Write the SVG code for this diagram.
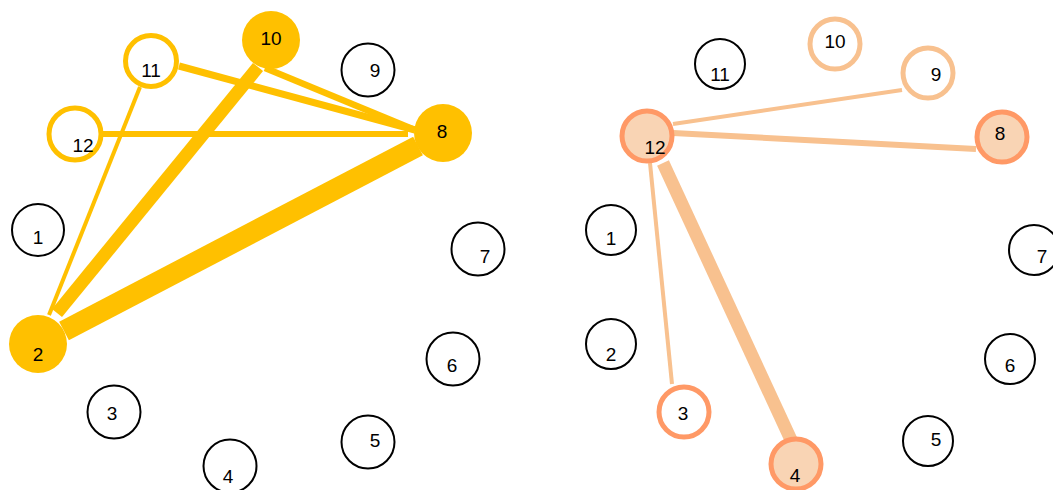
<svg xmlns="http://www.w3.org/2000/svg" width="1053" height="490" viewBox="0 0 1053 490">
<style>
.t{font-family:"Liberation Sans",Arial,sans-serif;font-size:19px;fill:#000;text-anchor:middle}
.n{fill:#fff;stroke:#000;stroke-width:2}
.yf{fill:#FFC000;stroke:none}
.yo{fill:#fff;stroke:#FFC000;stroke-width:5}
.lo{fill:#fff;stroke:#F8C18F;stroke-width:5}
.po{fill:#F9D4B4;stroke:#FF9966;stroke-width:5}
.ro{fill:#fff;stroke:#FF9966;stroke-width:5}
.ye{stroke:#FFC000;fill:none}
.oe{stroke:#F8C18F;fill:none}
</style>
<rect width="1053" height="490" fill="#fff"/>
<g id="edges-left">
<line class="ye" x1="103" y1="134" x2="408" y2="134" stroke-width="6"/>
<line class="ye" x1="179" y1="66" x2="415" y2="130" stroke-width="7"/>
<line class="ye" x1="265" y1="68" x2="415" y2="130" stroke-width="6.5"/>
<line class="ye" x1="140" y1="87" x2="49" y2="315" stroke-width="4"/>
<line class="ye" x1="258" y1="67" x2="57" y2="313" stroke-width="13"/>
<line class="ye" x1="418" y1="146" x2="64" y2="331" stroke-width="21"/>
</g>
<g id="L10"><circle class="yf" cx="271" cy="40" r="29"/><text class="t" x="271" y="45">10</text></g>
<g id="L11"><circle class="yo" cx="151" cy="61" r="25.5"/><text class="t" x="151" y="77">11</text></g>
<g id="L12"><circle class="yo" cx="75" cy="134" r="26"/><text class="t" x="83" y="152">12</text></g>
<g id="L9"><circle class="n" cx="368" cy="70" r="26.5"/><text class="t" x="375" y="77">9</text></g>
<g id="L8"><circle class="yf" cx="443" cy="133" r="29"/><text class="t" x="442" y="138">8</text></g>
<g id="L1"><circle class="n" cx="38" cy="230" r="26"/><text class="t" x="38" y="244">1</text></g>
<g id="L7"><circle class="n" cx="478" cy="249" r="26.5"/><text class="t" x="485" y="263">7</text></g>
<g id="L2"><circle class="yf" cx="38" cy="344" r="29"/><text class="t" x="38" y="361">2</text></g>
<g id="L3"><circle class="n" cx="114" cy="412" r="26.5"/><text class="t" x="112" y="420">3</text></g>
<g id="L4"><circle class="n" cx="230" cy="466" r="26.5"/><text class="t" x="228" y="483">4</text></g>
<g id="L5"><circle class="n" cx="368" cy="442" r="26.5"/><text class="t" x="375" y="447">5</text></g>
<g id="L6"><circle class="n" cx="453" cy="359" r="26.5"/><text class="t" x="452" y="372">6</text></g>

<g id="edges-right">
<line class="oe" x1="673" y1="124" x2="902" y2="90" stroke-width="4"/>
<line class="oe" x1="673" y1="133" x2="976" y2="149" stroke-width="6"/>
<line class="oe" x1="650" y1="163" x2="672" y2="384" stroke-width="4"/>
<line class="oe" x1="663" y1="163" x2="792" y2="442" stroke-width="13"/>
</g>
<g id="R11"><circle class="n" cx="720" cy="64" r="25"/><text class="t" x="720" y="81">11</text></g>
<g id="R10"><circle class="lo" cx="835" cy="44" r="25"/><text class="t" x="835" y="48">10</text></g>
<g id="R9"><circle class="lo" cx="928" cy="73" r="25"/><text class="t" x="936" y="81">9</text></g>
<g id="R8"><circle class="po" cx="1002" cy="137" r="25"/><text class="t" x="1000" y="140">8</text></g>
<g id="R12"><circle class="po" cx="647" cy="136" r="25"/><text class="t" x="655" y="154">12</text></g>
<g id="R1"><circle class="n" cx="611" cy="230" r="25"/><text class="t" x="611" y="245">1</text></g>
<g id="R7"><circle class="n" cx="1034" cy="250" r="25"/><text class="t" x="1042" y="263">7</text></g>
<g id="R2"><circle class="n" cx="611" cy="344" r="25"/><text class="t" x="611" y="361">2</text></g>
<g id="R3"><circle class="ro" cx="684" cy="412" r="25"/><text class="t" x="683" y="420">3</text></g>
<g id="R4"><circle class="po" cx="796" cy="464" r="25"/><text class="t" x="795" y="482">4</text></g>
<g id="R5"><circle class="n" cx="928" cy="441" r="25"/><text class="t" x="936" y="446">5</text></g>
<g id="R6"><circle class="n" cx="1010" cy="359" r="25"/><text class="t" x="1010" y="372">6</text></g>
</svg>
